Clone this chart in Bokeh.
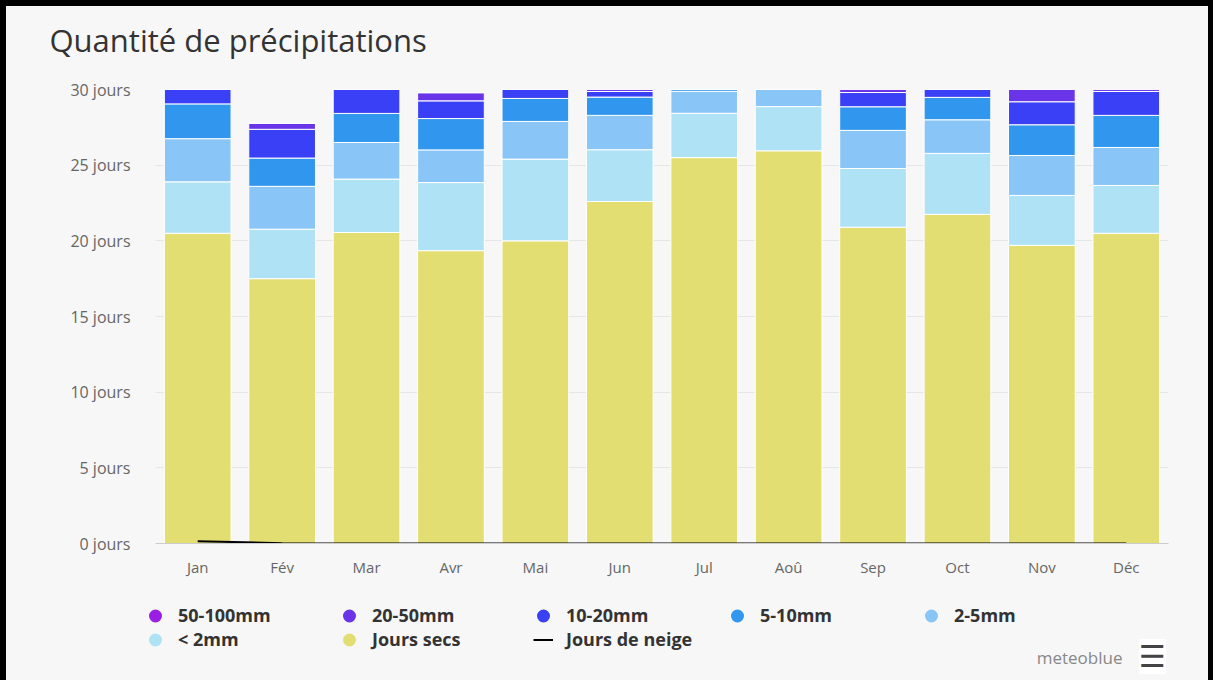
from bokeh.plotting import figure
from bokeh.layouts import column
from bokeh.models import (FactorRange, Range1d, Legend, LegendItem, Label,
                          PrintfTickFormatter, FixedTicker)
from bokeh.embed import file_html
from bokeh.resources import INLINE

months = ["Jan", "Fév", "Mar", "Avr", "Mai", "Jun", "Jul", "Aoû", "Sep", "Oct", "Nov", "Déc"]
dry = [20.5, 17.5, 20.55, 19.35, 20.0, 22.6, 25.5, 25.95, 20.9, 21.75, 19.7, 20.5]
lt2 = [3.4, 3.27, 3.53, 4.5, 5.4, 3.42, 2.93, 2.92, 3.88, 4.03, 3.3, 3.16]
mm2_5 = [2.85, 2.83, 2.42, 2.16, 2.49, 2.27, 1.45, 1.13, 2.52, 2.22, 2.64, 2.51]
mm5_10 = [2.3, 1.87, 1.92, 2.07, 1.52, 1.21, 0.12, 0.0, 1.56, 1.48, 2.03, 2.12]
mm10_20 = [0.95, 1.9, 1.58, 1.17, 0.59, 0.37, 0.0, 0.0, 0.94, 0.52, 1.52, 1.58]
mm20_50 = [0.0, 0.4, 0.0, 0.54, 0.0, 0.13, 0.0, 0.0, 0.2, 0.0, 0.81, 0.13]
mm50_100 = [0.0] * 12
snow = [0.15, 0.02, 0.0, 0.0, 0.0, 0.0, 0.0, 0.0, 0.0, 0.0, 0.0, 0.0]

y_ticks = [0, 5, 10, 15, 20, 25, 30]
title_text = "Quantité de précipitations"

stack_keys = ["dry", "lt2", "mm2_5", "mm5_10", "mm10_20", "mm20_50", "mm50_100"]
stack_colors = ["#e2de72", "#b0e2f5", "#89c5f7", "#3197ee", "#3a40f5", "#6a35e8", "#9a1fe0"]

legend_labels = ["50-100mm", "20-50mm", "10-20mm", "5-10mm", "2-5mm", "< 2mm", "Jours secs"]
legend_colors = ["#9a1fe0", "#6a35e8", "#3a40f5", "#3197ee", "#89c5f7", "#b0e2f5", "#e2de72"]

FONT = "Open Sans"
BG = "#f7f7f7"
W = 1213


def no_align(fig):
    if "frame_align" in fig.properties():
        fig.frame_align = False


def strip(height, styles):
    f = figure(x_range=Range1d(0, 1), y_range=Range1d(0, 1), width=W, height=height,
               output_backend="svg", toolbar_location=None, min_border=0,
               x_axis_location=None, y_axis_location=None)
    f.styles = styles
    f.background_fill_color = BG
    f.border_fill_color = BG
    f.outline_line_color = None
    f.grid.visible = False
    no_align(f)
    return f


# ---------------- header (title) ----------------
p0 = strip(66, {"border-left": "6px solid black", "border-top": "6px solid black",
                "border-right": "5px solid black", "background-color": BG})
p0.add_layout(Label(x=43, y=33, x_units="screen", y_units="screen", text=title_text,
                    text_font=FONT, text_font_size="31px", text_color="#333333",
                    text_baseline="middle", text_align="left"))

# ---------------- main chart ----------------
data = dict(month=months, dry=dry, lt2=lt2, mm2_5=mm2_5, mm5_10=mm5_10,
            mm10_20=mm10_20, mm20_50=mm20_50, mm50_100=mm50_100)

p = figure(x_range=FactorRange(*months, range_padding=0), y_range=Range1d(0, 30),
           width=W, height=523, output_backend="svg", toolbar_location=None,
           min_border_left=149, min_border_right=51, min_border_top=23, min_border_bottom=46)
p.styles = {"border-left": "6px solid black", "border-right": "5px solid black",
            "background-color": BG}
p.background_fill_color = BG
p.border_fill_color = BG
p.outline_line_color = None
no_align(p)

p.vbar_stack(stack_keys, x="month", width=0.79, color=stack_colors, source=data,
             line_color="white", line_width=1)
p.line(x=months, y=snow, line_color="black", line_width=2)

p.xgrid.visible = False
p.ygrid.grid_line_color = "#e6e6e6"
p.ygrid.grid_line_width = 1
p.yaxis.ticker = FixedTicker(ticks=y_ticks)
p.yaxis.formatter = PrintfTickFormatter(format="%d jours")
p.yaxis.axis_line_color = None
p.yaxis.major_tick_line_color = None
p.yaxis.minor_tick_line_color = None
p.yaxis.major_label_standoff = 19
p.yaxis.major_label_text_font = FONT
p.yaxis.major_label_text_font_size = "16px"
p.yaxis.major_label_text_color = "#666666"

p.xaxis.axis_line_color = "#cccccc"
p.xaxis.major_tick_line_color = None
p.xaxis.minor_tick_line_color = None
p.xaxis.major_label_standoff = 7
p.xaxis.major_label_text_font = FONT
p.xaxis.major_label_text_font_size = "15px"
p.xaxis.major_label_text_color = "#666666"

# ---------------- legend strip ----------------
p2 = strip(91, {"border-left": "6px solid black", "border-right": "5px solid black",
                "background-color": BG})

items = []
for lab, col in zip(legend_labels, legend_colors):
    # legend proxies, placed outside the visible range of the strip
    r = p2.scatter(x=[-1], y=[-1], marker="circle", fill_color=col, line_color=col,
                   line_width=5)
    items.append(LegendItem(label=lab, renderers=[r]))
snow_r = p2.line(x=[-2, -1], y=[-1, -1], line_color="black", line_width=2)
items.append(LegendItem(label="Jours de neige", renderers=[snow_r]))

legend = Legend(items=items, location=(139, 29), orientation="horizontal", ncols=5,
                glyph_width=20, glyph_height=23, label_standoff=13, label_width=161,
                label_height=23, spacing=0, padding=0, margin=0,
                border_line_color=None, background_fill_alpha=0,
                label_text_font=FONT, label_text_font_size="18px",
                label_text_font_style="bold", label_text_color="#333333")
p2.add_layout(legend, "center")

p2.add_layout(Label(x=1116, y=23, x_units="screen", y_units="screen", text="meteoblue",
                    text_font=FONT, text_font_size="17px", text_color="#888888",
                    text_baseline="middle", text_align="right"))
p2.add_layout(Label(x=1146, y=24, x_units="screen", y_units="screen", text="☰",
                    text_font="DejaVu Sans", text_font_size="30px", text_color="#444444",
                    text_baseline="middle", text_align="center",
                    background_fill_color="white", background_fill_alpha=1.0))

layout = column(p0, p, p2, spacing=0)
layout.styles = {"background-color": BG}
open("out.html", "w").write(file_html(layout, INLINE))
